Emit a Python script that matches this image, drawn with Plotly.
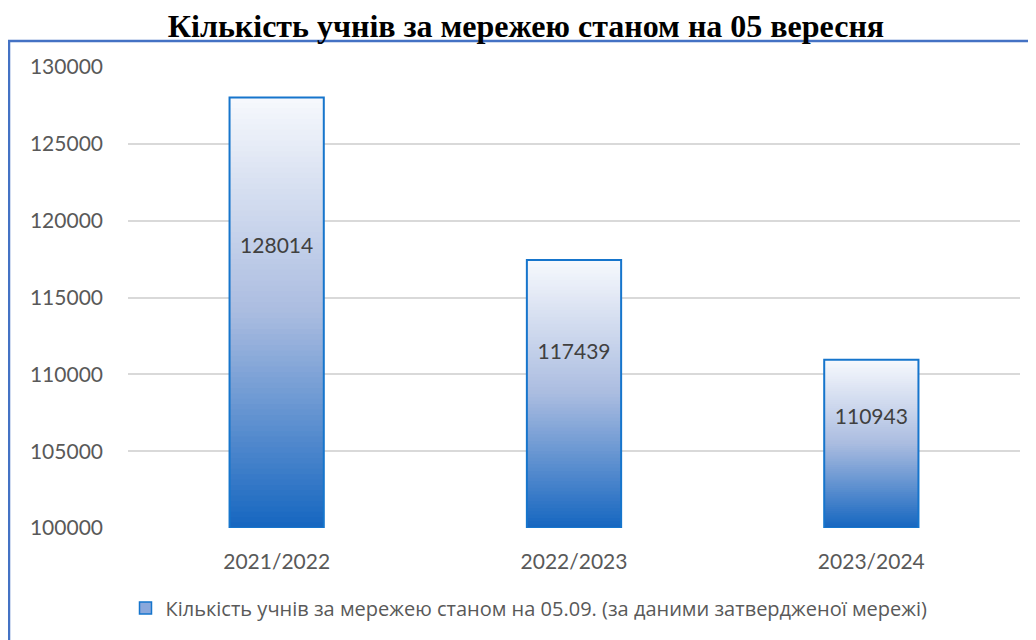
import plotly.graph_objects as go

categories = ["2021/2022", "2022/2023", "2023/2024"]
values = [128014, 117439, 110943]
axis_base = 100000
y_ticks = [100000, 105000, 110000, 115000, 120000, 125000, 130000]
series_name = "Кількість учнів за мережею станом на 05.09. (за даними затвердженої мережі)"
title_text = "Кількість учнів за мережею станом на 05 вересня"

TOP = (247, 249, 253)
MID = (170, 188, 224)
BOT = (21, 102, 192)


def lerp(c1, c2, t):
    return tuple(round(a + (b - a) * t) for a, b in zip(c1, c2))


def grad(t):  # t=0 bottom, 1 top
    if t < 0.5:
        return lerp(BOT, MID, t / 0.5)
    return lerp(MID, TOP, (t - 0.5) / 0.5)


# page body has an 8px margin: figure sits at (8, 8) in the window
OFF = 8
W, H = 1036 - OFF, 640 - OFF
ML, MR, MT, MB = 128 - OFF, 16, 67 - OFF, 112
PW = W - ML - MR
PH = H - MT - MB

N = 80
fig = go.Figure()
for k in range(N):
    bases = [axis_base + (v - axis_base) * k / N for v in values]
    heights = [min((v - axis_base) / N * 3, v - b) for v, b in zip(values, bases)]
    c = grad((k + 0.5) / N)
    fig.add_trace(go.Bar(
        x=categories, y=heights, base=bases, width=0.317,
        marker=dict(color="rgb(%d,%d,%d)" % c, line=dict(width=0)),
        showlegend=False, hoverinfo="skip"))

# outline
fig.add_trace(go.Bar(
    x=categories, y=[v - axis_base for v in values], base=[axis_base] * 3, width=0.317,
    marker=dict(color="rgba(0,0,0,0)", line=dict(color="#1675cc", width=2)),
    showlegend=False, hoverinfo="skip"))

# legend entry
fig.add_trace(go.Bar(
    x=[None], y=[None], name=series_name,
    marker=dict(color="#8aa8dc", line=dict(color="#1675cc", width=1.5))))

# data labels
fig.add_trace(go.Scatter(
    x=categories, y=[axis_base + 0.65 * (v - axis_base) for v in values],
    mode="text", text=[str(v) for v in values],
    textfont=dict(family="Lato", size=21, color="#404040"),
    showlegend=False, hoverinfo="skip"))

fig.update_layout(
    width=W, height=H,
    barmode="overlay",
    paper_bgcolor="white", plot_bgcolor="white",
    margin=dict(l=ML, r=MR, t=MT, b=MB, autoexpand=False),
    title=dict(text="<b>" + title_text + "</b>", x=(526 - 128) / PW, xref="paper", xanchor="center",
               y=1 - (26 - OFF) / H, yanchor="middle",
               font=dict(family="Liberation Serif", size=32, color="black")),
    xaxis=dict(showgrid=False, showline=False, ticks="", ticklabelstandoff=19,
               tickfont=dict(family="Lato", size=21, color="#595959")),
    yaxis=dict(range=[100000, 130000], tickvals=y_ticks, ticktext=[str(t) for t in y_ticks],
               showgrid=True, gridcolor="#d9d9d9", gridwidth=1.5, zeroline=False,
               showline=False, ticks="", ticklabelstandoff=24,
               tickfont=dict(family="Lato", size=21, color="#595959")),
    legend=dict(orientation="h", x=(529 - 128) / PW, xanchor="center",
                y=(528 - 608) / PH, yanchor="middle",
                font=dict(family="Open Sans", size=20, color="#595959"),
                itemwidth=30),
    shapes=[dict(type="rect", xref="paper", yref="paper",
                 x0=(9 - 128) / PW, x1=1.2, y0=-0.5, y1=(528 - 41) / PH,
                 line=dict(color="#4472c4", width=2.5), layer="below")],
)

fig.write_html("out.html")
